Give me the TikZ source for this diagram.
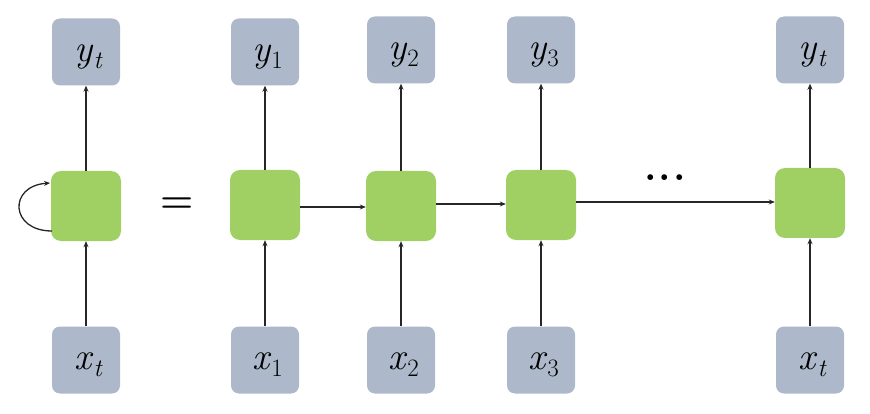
\documentclass[tikz,border=0pt]{standalone}
\usetikzlibrary{arrows.meta}
\definecolor{boxgray}{HTML}{ADB9CA}
\definecolor{cellgreen}{HTML}{A0CF64}
\definecolor{linecol}{HTML}{262626}
\newcommand{\lbl}[2]{\raisebox{0pt}[\dimexpr\height+10pt\relax]{\hspace{5pt}\textit{#1}\raisebox{-7pt}{\fontsize{25}{25}\selectfont #2}}}
\begin{document}
\begin{tikzpicture}[x=1pt,y=-1pt,
  io/.style={fill=boxgray, rounded corners=8pt, minimum width=68pt, minimum height=67pt, inner sep=0pt, text=black, font=\fontsize{38}{40}\selectfont},
  cell/.style={fill=cellgreen, rounded corners=10pt, minimum width=70pt, minimum height=70pt, inner sep=0pt},
  conn/.style={draw=linecol, line width=1.3pt, -{Stealth[length=6pt,width=5pt]}}
]
\useasboundingbox (0,0) rectangle (870,414);
% column 0 (folded)
\node[io] (y0) at (86,52) {\lbl{y}{\textit{t}}};
\node[cell] (h0) at (86,206) {};
\node[io] (x0) at (86,360) {\lbl{x}{\textit{t}}};
% unrolled columns
\node[io] (y1) at (265,52) {\lbl{y}{1}};
\node[cell] (h1) at (265,205) {};
\node[io] (x1) at (265,360) {\lbl{x}{1}};
\node[io] (y2) at (401,50) {\lbl{y}{2}};
\node[cell] (h2) at (401,206) {};
\node[io] (x2) at (401,360) {\lbl{x}{2}};
\node[io] (y3) at (541,50) {\lbl{y}{3}};
\node[cell] (h3) at (541,205) {};
\node[io] (x3) at (541,360) {\lbl{x}{3}};
\node[io] (y4) at (810,50) {\lbl{y}{\textit{t}}};
\node[cell] (h4) at (810,203) {};
\node[io] (x4) at (810,360) {\lbl{x}{\textit{t}}};
% equals and dots
\node[font=\fontsize{38}{40}\selectfont\bfseries] (eq) at (177,205) {=};
\node[font=\fontsize{40}{40}\selectfont\bfseries] (dots) at (665,178) {.\kern2pt.\kern2pt.};
% vertical connectors
\foreach \i in {0,...,4} {
  \draw[conn] (h\i.north) -- (y\i.south);
  \draw[conn] (x\i.north) -- (h\i.south);
}
% horizontal connectors
\draw[conn] (h1.east |- 0,207) -- (h2.west |- 0,207);
\draw[conn] (h2.east |- 0,204) -- (h3.west |- 0,204);
\draw[conn] (h3.east |- 0,202) -- (h4.west |- 0,202);
% self loop
\coordinate (ls) at (52,231);
\coordinate (le) at (50,183);
\draw[conn] (ls) .. controls (10,231) and (8,186) .. (le);
\end{tikzpicture}
\end{document}
